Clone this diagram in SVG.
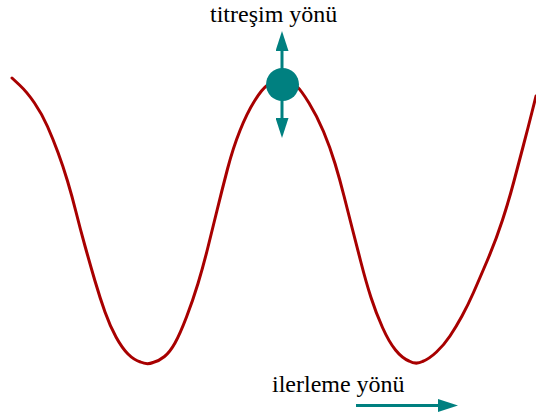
<svg xmlns="http://www.w3.org/2000/svg" width="536" height="416" viewBox="0 0 536 416">
<style>
.wave{fill:none;stroke:#a80000;stroke-width:3;stroke-linejoin:round;stroke-linecap:round}
.arr{fill:none;stroke:#008080;stroke-width:3}
.lbl{font-family:"Liberation Serif","Times New Roman",serif;font-size:24px;fill:#000}
</style>
<defs>
<marker id="ah" viewBox="0 0 20 13" markerWidth="20" markerHeight="13" refX="0" refY="6.5" orient="auto" markerUnits="userSpaceOnUse">
<path d="M0,0 L20,6.5 L0,13 Z" fill="#008080"/>
</marker>
</defs>
<rect width="536" height="416" fill="#fff"/>
<g id="wave">
<path class="wave" d="M12,78 L19.5,85 Q27,92 34.5,103 Q42,114 47.5,126.5 Q53,139 58,152.5 Q63,166 67.5,181 Q72,196 76,212 Q80,228 85,246 Q90,264 95,281 Q100,298 105,312 Q110,326 116,337 Q122,348 128,354 Q134,360 140.5,362 Q147,365 153,362.5 Q159,361 164.5,356.5 Q170,352 175,343 Q180,334 186.5,317 Q193,300 198,283.5 Q203,267 207.5,249 Q212,231 217,210.5 Q222,190 227.5,169 Q233,148 240,130.5 Q247,113 254.5,101 Q262,89 267,85.5 Q272,82 277,81 Q282,79 287,81 Q292,82 296.5,86 Q301,90 309,103 Q317,116 323.5,131.5 Q330,147 335,163.5 Q340,180 344,196 Q348,212 352,227.5 Q356,243 361,262.5 Q366,282 371,297.5 Q376,313 382.5,327.5 Q389,342 395.5,350 Q402,358 409,361 Q416,365 422.5,361.5 Q429,359 436.5,352 Q444,345 450,336 Q456,327 462,316 Q468,305 473.5,292.5 Q479,280 487.5,260 Q496,240 502.5,220 Q509,200 514,181 Q519,162 523.5,145 Q528,128 532,112 L536,96"/>
</g>
<g id="connectors">
<line class="arr" x1="282" y1="70" x2="282" y2="51" marker-end="url(#ah)"/>
<line class="arr" x1="282" y1="98" x2="282" y2="118" marker-end="url(#ah)"/>
<line class="arr" x1="356" y1="405.5" x2="438" y2="405.5" marker-end="url(#ah)"/>
</g>
<g id="particle">
<circle cx="282.5" cy="84.5" r="16.5" fill="#008080"/>
</g>
<g id="label-titresim">
<text class="lbl" x="210" y="22">titreşim yönü</text>
</g>
<g id="label-ilerleme">
<text class="lbl" x="272" y="392">ilerleme yönü</text>
</g>
</svg>
